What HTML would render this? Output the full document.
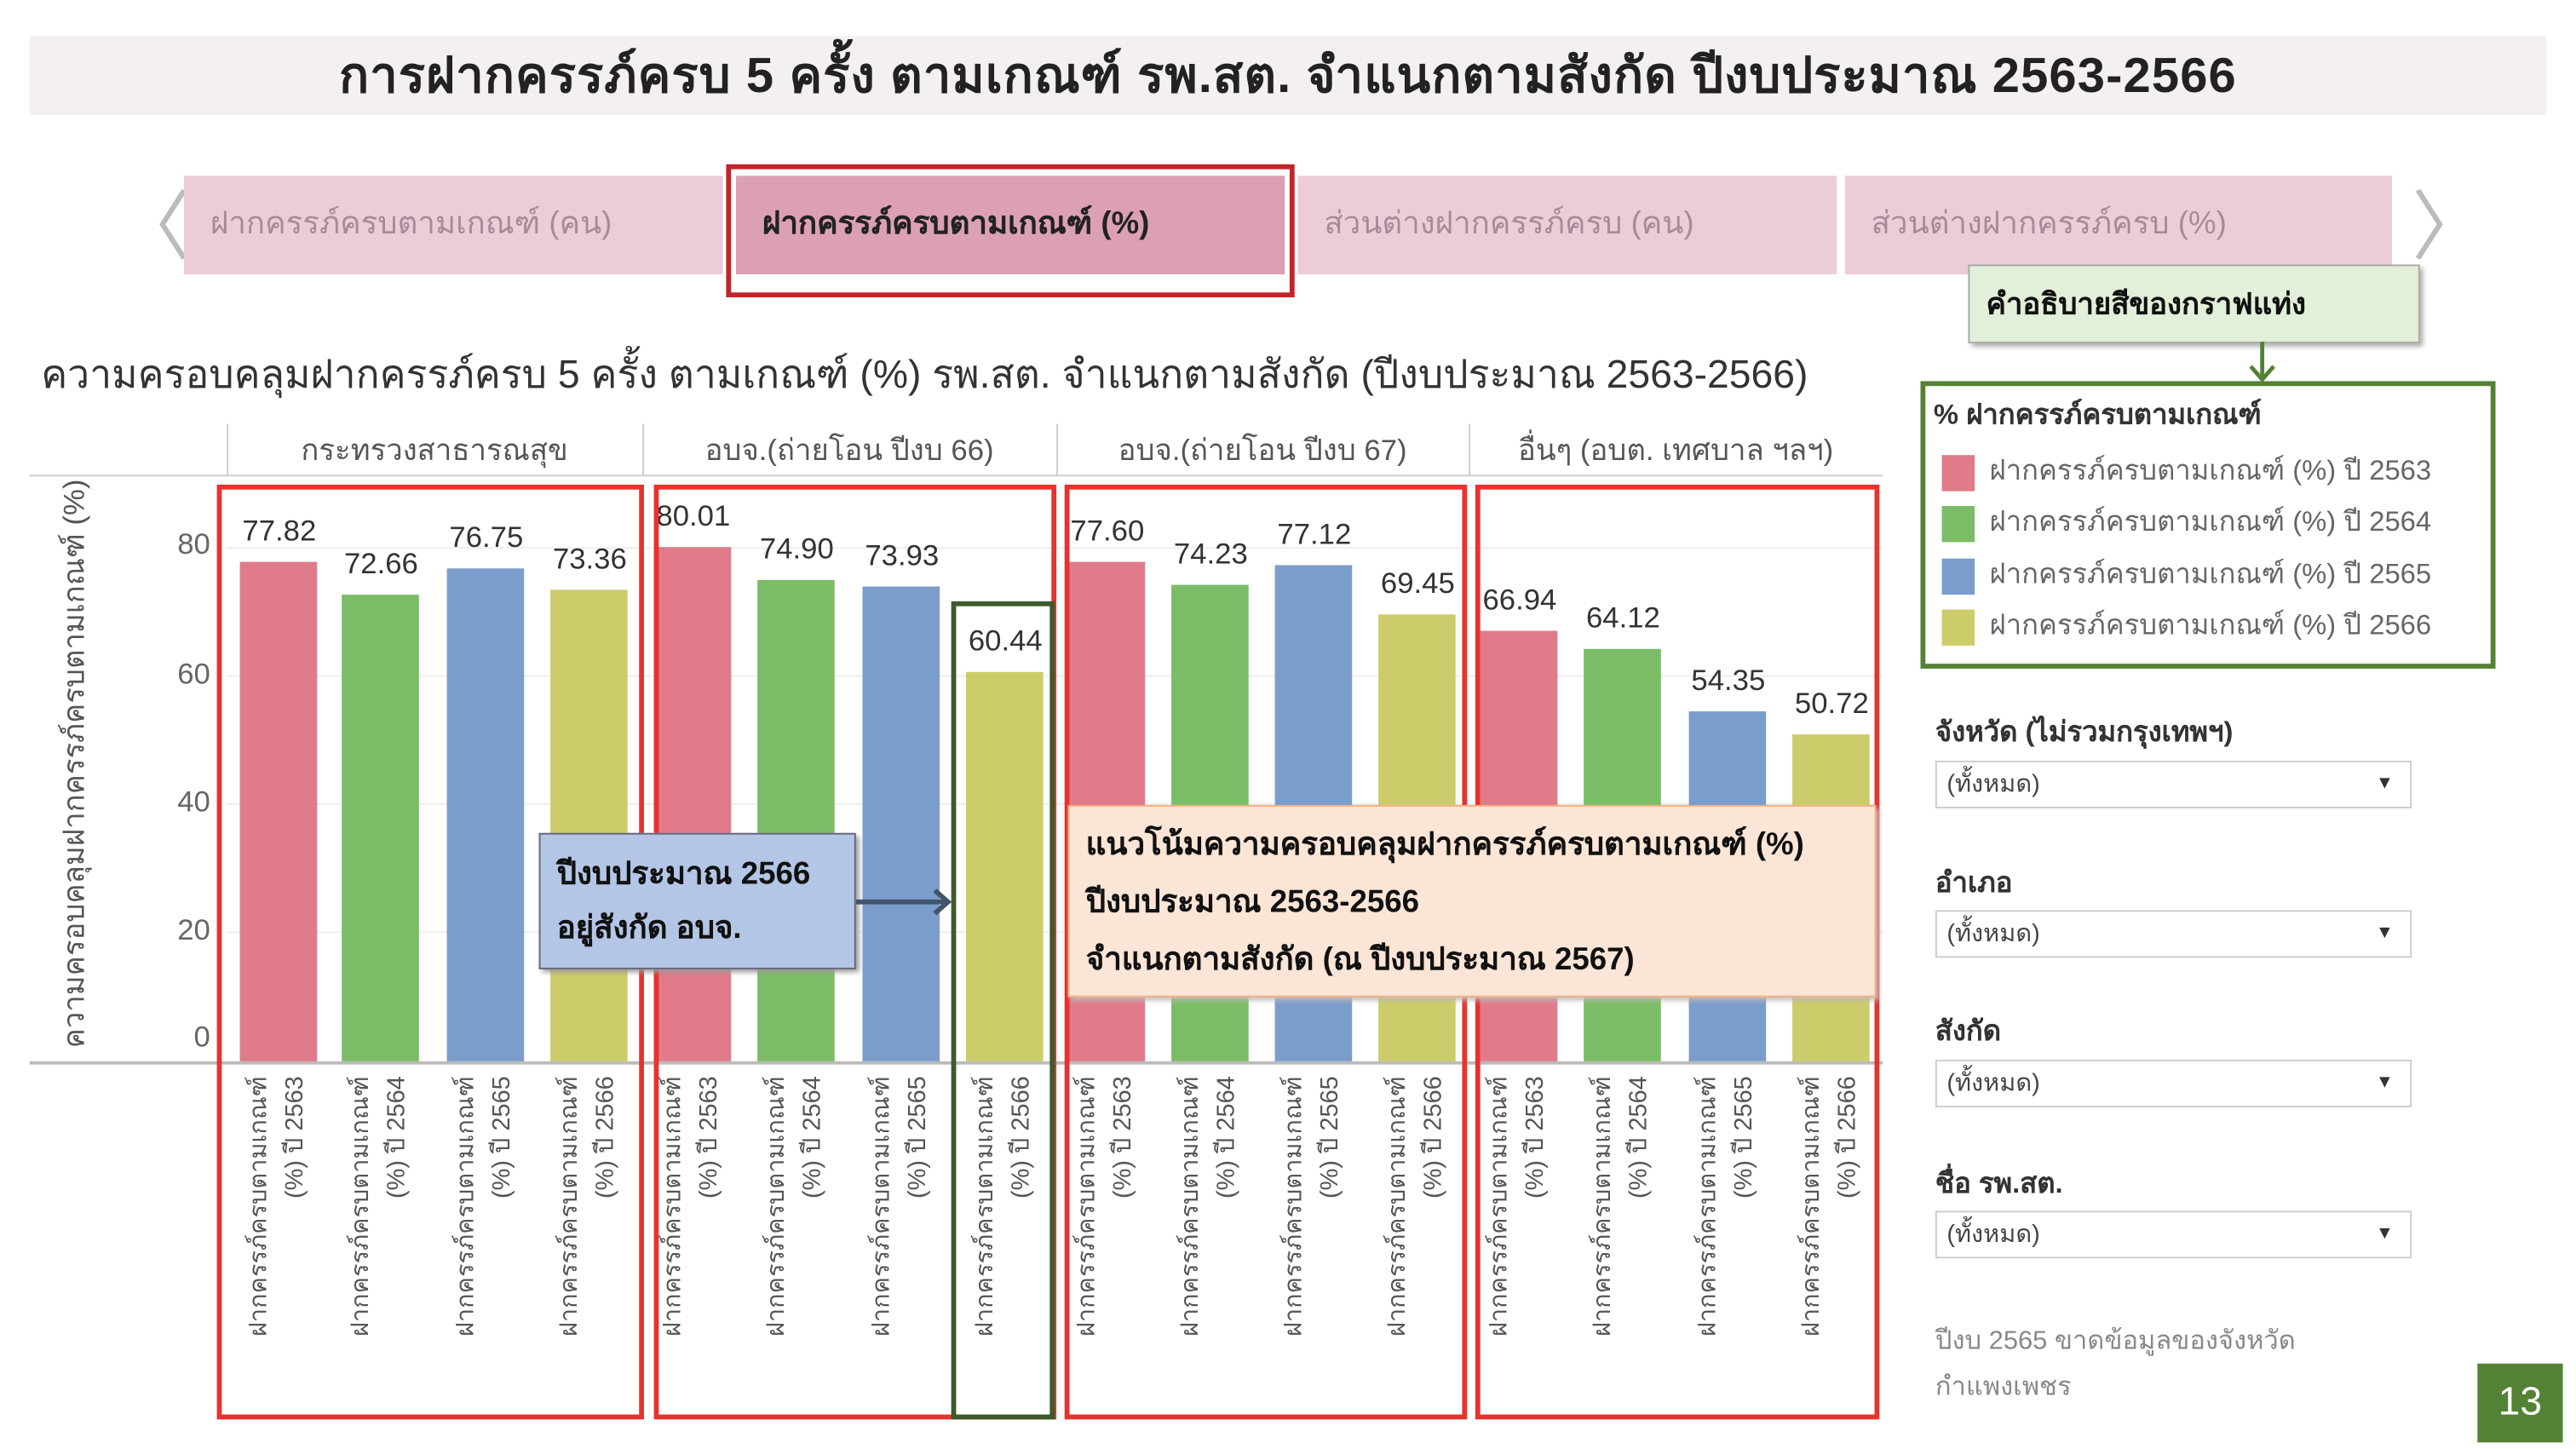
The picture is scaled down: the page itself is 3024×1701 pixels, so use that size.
<!DOCTYPE html>
<html><head><meta charset="utf-8">
<style>
*{margin:0;padding:0;box-sizing:border-box}
html,body{width:3024px;height:1700px;overflow:hidden;background:#fff}
#w{position:absolute;left:0;top:0;width:1568px;height:882px;transform:scale(1.92857);transform-origin:0 0;font-family:"Liberation Sans","Noto Sans CJK SC",sans-serif;color:#333}
.a{position:absolute}
.tab{position:absolute;top:107px;height:60px;background:#ecccd9;color:#a78a98;font-size:19px;line-height:60px;padding-left:16px;white-space:nowrap}
.bar{position:absolute;width:47px}
.v{position:absolute;width:60px;text-align:center;font-size:18px;color:#333}
.xl{position:absolute;width:190px;height:48px;transform:rotate(-90deg);transform-origin:0 0;text-align:right;font-size:15px;line-height:22px;color:#555;white-space:nowrap}
.rb{position:absolute;border:3px solid #e8322d;top:295px;height:569px}
.hd{position:absolute;top:258px;height:32px;font-size:18px;line-height:32px;text-align:center;color:#555}
.dd{position:absolute;left:1178px;width:290px;height:29px;border:1px solid #ccc;font-size:15px;line-height:27px;padding-left:6px;color:#444}
.dd:after{content:"▼";position:absolute;right:10px;font-size:11px;color:#333}
.fl{position:absolute;left:1178px;font-size:17px;font-weight:bold;color:#333}
.li{position:absolute;left:1182px;font-size:17px;color:#666;white-space:nowrap}
.li span{display:inline-block;width:20px;height:22px;vertical-align:middle;margin-right:9px}
</style></head><body><div id="w">
<div class="a" style="left:18px;top:22px;width:1532px;height:48px;background:#f3eff3;text-align:center;font-size:30px;letter-spacing:0.6px;font-weight:bold;line-height:50px;color:#222;white-space:nowrap">การฝากครรภ์ครบ 5 ครั้ง ตามเกณฑ์ รพ.สต. จำแนกตามสังกัด ปีงบประมาณ 2563-2566</div>
<div class="a" style="left:70px;top:110px;font-size:46px;color:#bbb;line-height:56px">〈</div>
<div class="a" style="left:1468px;top:110px;font-size:46px;color:#bbb;line-height:56px">〉</div>
<div class="tab" style="left:112px;width:328px">ฝากครรภ์ครบตามเกณฑ์ (คน)</div>
<div class="tab" style="left:448px;width:334px;background:#dca0b4;color:#222;font-weight:bold">ฝากครรภ์ครบตามเกณฑ์ (%)</div>
<div class="a" style="left:442px;top:100px;width:346px;height:81px;border:3px solid #c0252a"></div>
<div class="tab" style="left:790px;width:328px">ส่วนต่างฝากครรภ์ครบ (คน)</div>
<div class="tab" style="left:1123px;width:333px">ส่วนต่างฝากครรภ์ครบ (%)</div>
<div class="a" style="left:1198px;top:161px;width:275px;height:48px;background:#e2efd9;border:1px solid #aaa;box-shadow:2px 2px 3px #aaa;font-size:18px;font-weight:bold;line-height:46px;padding-left:10px;color:#111">คำอธิบายสีของกราฟแท่ง</div>
<svg class="a" style="left:1365px;top:208px" width="24" height="26"><line x1="12" y1="0" x2="12" y2="22" stroke="#548235" stroke-width="2.5"/><path d="M5 15 L12 23 L19 15" fill="none" stroke="#548235" stroke-width="2.5"/></svg>
<div class="a" style="left:25px;top:208px;font-size:24px;color:#333;white-space:nowrap">ความครอบคลุมฝากครรภ์ครบ 5 ครั้ง ตามเกณฑ์ (%) รพ.สต. จำแนกตามสังกัด (ปีงบประมาณ 2563-2566)</div>
<div class="a" style="left:18px;top:289px;width:1128px;height:1px;background:#ccc"></div>
<div class="a" style="left:18px;top:646px;width:1128px;height:2px;background:#bbb"></div>
<div class="a" style="left:138px;top:258px;width:1px;height:32px;background:#ccc"></div>
<div class="a" style="left:391px;top:258px;width:1px;height:32px;background:#ccc"></div>
<div class="a" style="left:643px;top:258px;width:1px;height:32px;background:#ccc"></div>
<div class="a" style="left:894px;top:258px;width:1px;height:32px;background:#ccc"></div>
<div class="hd" style="left:138px;width:253px">กระทรวงสาธารณสุข</div>
<div class="hd" style="left:391px;width:252px">อบจ.(ถ่ายโอน ปีงบ 66)</div>
<div class="hd" style="left:643px;width:251px">อบจ.(ถ่ายโอน ปีงบ 67)</div>
<div class="hd" style="left:894px;width:252px">อื่นๆ (อบต. เทศบาล ฯลฯ)</div>
<div class="a" style="left:138px;top:333px;width:1008px;height:1px;background:#eee"></div>
<div class="a" style="left:138px;top:411px;width:1008px;height:1px;background:#eee"></div>
<div class="a" style="left:138px;top:489px;width:1008px;height:1px;background:#eee"></div>
<div class="a" style="left:138px;top:567px;width:1008px;height:1px;background:#eee"></div>
<div class="a" style="left:90px;top:321px;width:38px;text-align:right;font-size:18px;color:#666">80</div>
<div class="a" style="left:90px;top:400px;width:38px;text-align:right;font-size:18px;color:#666">60</div>
<div class="a" style="left:90px;top:478px;width:38px;text-align:right;font-size:18px;color:#666">40</div>
<div class="a" style="left:90px;top:556px;width:38px;text-align:right;font-size:18px;color:#666">20</div>
<div class="a" style="left:90px;top:621px;width:38px;text-align:right;font-size:18px;color:#666">0</div>
<div class="a" style="left:30px;top:638px;width:340px;transform:rotate(-90deg);transform-origin:0 0;font-size:18px;color:#555;text-align:center;white-space:nowrap">ความครอบคลุมฝากครรภ์ครบตามเกณฑ์ (%)</div>
<div id="bars"></div>
<script>
var d=[77.82,72.66,76.75,73.36,80.01,74.90,73.93,60.44,77.60,74.23,77.12,69.45,66.94,64.12,54.35,50.72];
var xs=[146,208,272,335,398,461,525,588,650,713,776,839,901,964,1028,1091];
var c=["#e07b8a","#7bbd66","#7b9dcb","#cdcc6b"];
var yr=["2563","2564","2565","2566"];
var h="";
for(var i=0;i<16;i++){var t=645-d[i]*3.9;
h+='<div class="bar" style="left:'+xs[i]+'px;top:'+t+'px;height:'+(646-t)+'px;background:'+c[i%4]+'"></div>';
h+='<div class="v" style="left:'+(xs[i]-6)+'px;top:'+(t-29)+'px">'+d[i].toFixed(2)+'</div>';
h+='<div class="xl" style="left:'+(xs[i]+1)+'px;top:'+(655+190)+'px">ฝากครรภ์ครบตามเกณฑ์<br>(%) ปี '+yr[i%4]+'</div>';}
document.getElementById("bars").innerHTML=h;
</script>
<div class="rb" style="left:132px;width:260px"></div>
<div class="rb" style="left:398px;width:245px"></div>
<div class="rb" style="left:648px;width:245px"></div>
<div class="rb" style="left:898px;width:246px"></div>
<div class="a" style="left:579px;top:366px;width:63px;height:498px;border:3px solid #3e5a2b"></div>
<div class="a" style="left:328px;top:507px;width:193px;height:83px;background:#b4c6e6;border:1px solid #667;box-shadow:2px 2px 3px #999;font-size:19px;font-weight:bold;color:#111;padding:8px 0 0 10px;line-height:33px">ปีงบประมาณ 2566<br>อยู่สังกัด อบจ.</div>
<svg class="a" style="left:521px;top:540px" width="60" height="18"><line x1="0" y1="9" x2="55" y2="9" stroke="#44546a" stroke-width="3"/><path d="M48 2 L56 9 L48 16" fill="none" stroke="#44546a" stroke-width="3"/></svg>
<div class="a" style="left:650px;top:490px;width:492px;height:117px;background:#fbe5d6;border:1px solid #f4b183;box-shadow:2px 2px 3px #bbb;font-size:19px;font-weight:bold;color:#111;padding:6px 0 0 10px;line-height:35px;white-space:nowrap">แนวโน้มความครอบคลุมฝากครรภ์ครบตามเกณฑ์ (%)<br>ปีงบประมาณ 2563-2566<br>จำแนกตามสังกัด (ณ ปีงบประมาณ 2567)</div>
<div class="a" style="left:1169px;top:232px;width:350px;height:175px;border:3px solid #548235"></div>
<div class="a" style="left:1177px;top:239px;font-size:17px;font-weight:bold;color:#333">% ฝากครรภ์ครบตามเกณฑ์</div>
<div class="li" style="top:273px"><span style="background:#e07b8a"></span>ฝากครรภ์ครบตามเกณฑ์ (%) ปี 2563</div>
<div class="li" style="top:304px"><span style="background:#7bbd66"></span>ฝากครรภ์ครบตามเกณฑ์ (%) ปี 2564</div>
<div class="li" style="top:336px"><span style="background:#7b9dcb"></span>ฝากครรภ์ครบตามเกณฑ์ (%) ปี 2565</div>
<div class="li" style="top:367px"><span style="background:#cdcc6b"></span>ฝากครรภ์ครบตามเกณฑ์ (%) ปี 2566</div>
<div class="fl" style="top:432px">จังหวัด (ไม่รวมกรุงเทพฯ)</div>
<div class="dd" style="top:463px">(ทั้งหมด)</div>
<div class="fl" style="top:524px">อำเภอ</div>
<div class="dd" style="top:554px">(ทั้งหมด)</div>
<div class="fl" style="top:614px">สังกัด</div>
<div class="dd" style="top:645px">(ทั้งหมด)</div>
<div class="fl" style="top:707px">ชื่อ รพ.สต.</div>
<div class="dd" style="top:737px">(ทั้งหมด)</div>
<div class="a" style="left:1178px;top:803px;font-size:16px;color:#888;line-height:28px">ปีงบ 2565 ขาดข้อมูลของจังหวัด<br>กำแพงเพชร</div>
<div class="a" style="left:1508px;top:830px;width:52px;height:48px;background:#548235;color:#fff;font-size:24px;text-align:center;line-height:48px">13</div>
</div></body></html>
